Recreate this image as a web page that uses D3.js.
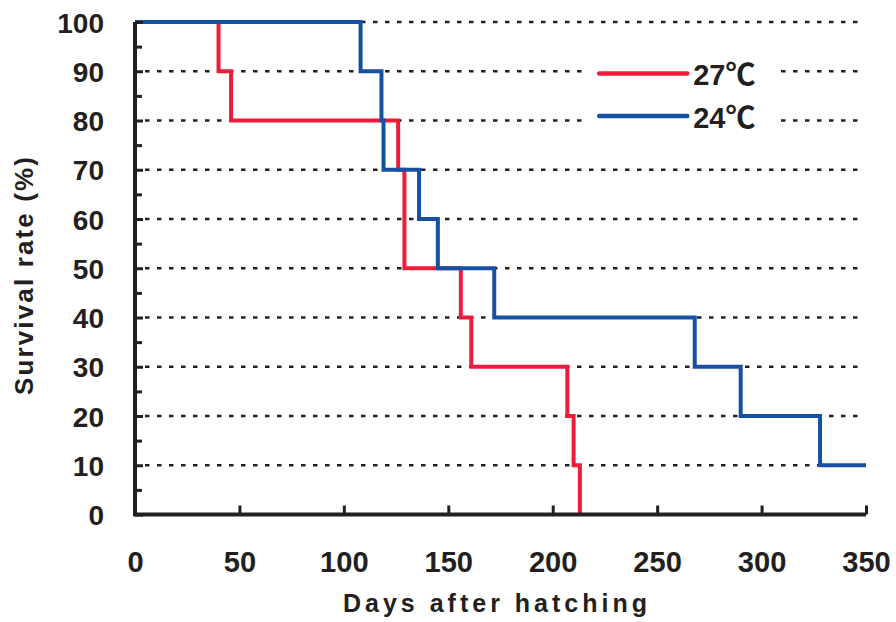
<!DOCTYPE html>
<html>
<head>
<meta charset="utf-8">
<script src="https://cdn.jsdelivr.net/npm/d3@7"></script>
<style>
  body { margin: 0; background: #fff; }
  text { font-family: "Liberation Sans", Arial, "Noto Sans CJK JP", sans-serif; font-weight: bold; fill: #231f20; }
</style>
</head>
<body>
<svg id="chart" width="896" height="622"></svg>
<script>
// survival data
const days27 = [0, 40, 46, 126, 129, 156, 161, 207, 210, 213];
const rate27 = [100, 90, 80, 70, 50, 40, 30, 20, 10, 0];
const days24 = [0, 108, 118, 119, 136, 145, 172, 268, 290, 328, 350];
const rate24 = [100, 90, 80, 70, 60, 50, 40, 30, 20, 10, 10];
const xTicks = [0, 50, 100, 150, 200, 250, 300, 350];
const yTicks = [0, 10, 20, 30, 40, 50, 60, 70, 80, 90, 100];
const yMinor = [5, 15, 25, 35, 45, 55, 65, 75, 85, 95];

const series = [
  {name: "27", unit: "℃", color: "#ee1c3b", days: days27, rate: rate27},
  {name: "24", unit: "℃", color: "#1550a4", days: days24, rate: rate24}
];

const svg = d3.select("#chart");
const margin = {top: 22, right: 30, bottom: 107.5, left: 135};
const W = 896 - margin.left - margin.right;
const H = 622 - margin.top - margin.bottom;
const ink = "#231f20";

const g = svg.append("g").attr("transform", `translate(${margin.left},${margin.top})`);

const x = d3.scaleLinear().domain([0, 350]).range([0, W]);
const y = d3.scaleLinear().domain([0, 100]).range([H, 0]);

// dotted grid
g.append("g")
  .selectAll("line")
  .data(yTicks.filter(d => d > 0))
  .join("line")
  .attr("x1", 10).attr("x2", x(347))
  .attr("y1", d => y(d)).attr("y2", d => y(d))
  .attr("stroke", ink)
  .attr("stroke-width", 2.6)
  .attr("stroke-dasharray", "4.5,7.5");

// legend box hides the grid
const lg = g.append("g").attr("transform", `translate(${x(217)},0)`);
lg.append("rect").attr("x", 0).attr("y", 33).attr("width", 190).attr("height", 80).attr("fill", "#fff");

// lines
const line = d3.line()
  .x(d => x(d[0]))
  .y(d => y(d[1]))
  .curve(d3.curveStepAfter);

g.selectAll("path.surv")
  .data(series)
  .join("path")
  .attr("class", "surv")
  .attr("d", s => line(s.days.map((d, i) => [d, s.rate[i]])))
  .attr("fill", "none")
  .attr("stroke", s => s.color)
  .attr("stroke-width", 4)
  .attr("stroke-linejoin", "miter")
  .attr("stroke-linecap", "butt");

// legend entries
series.forEach((s, i) => {
  const ly = 51.5 + i * 42.5;
  lg.append("line")
    .attr("x1", 11).attr("x2", 99)
    .attr("y1", ly).attr("y2", ly)
    .attr("stroke", s.color).attr("stroke-width", 4.5).attr("stroke-linecap", "round");
  const t = lg.append("text")
    .attr("x", 105).attr("y", ly + 11.5)
    .attr("font-size", 29);
  t.append("tspan").text(s.name);
  t.append("tspan")
    .style("font-family", "'Noto Sans CJK JP', sans-serif")
    .attr("font-size", 30)
    .text(s.unit);
});

// y axis
const yAxis = g.append("g")
  .call(d3.axisLeft(y).tickValues(yTicks).tickSize(-8).tickPadding(31));
yAxis.select(".domain").remove();
yAxis.selectAll(".tick line").attr("stroke", ink).attr("stroke-width", 3);
yAxis.selectAll(".tick text").attr("font-size", 28).attr("fill", ink).attr("dy", "0.36em");

const yMinorAxis = g.append("g")
  .call(d3.axisLeft(y).tickValues(yMinor).tickSize(-7).tickFormat(""));
yMinorAxis.select(".domain").remove();
yMinorAxis.selectAll(".tick line").attr("stroke", ink).attr("stroke-width", 3);

// x axis
const xAxis = g.append("g")
  .attr("transform", `translate(0,${H})`)
  .call(d3.axisBottom(x).tickValues(xTicks).tickSize(-9).tickPadding(0));
xAxis.select(".domain").remove();
xAxis.selectAll(".tick line").attr("stroke", ink).attr("stroke-width", 3);
xAxis.selectAll(".tick text")
  .attr("font-size", 30).attr("fill", ink)
  .attr("y", 57.5).attr("dy", 0)
  .attr("transform", "scale(0.97,1)");

// axis lines
g.append("path")
  .attr("d", `M0,0 V${H} H${W}`)
  .attr("fill", "none")
  .attr("stroke", ink)
  .attr("stroke-width", 4)
  .attr("stroke-linejoin", "miter");

// titles
svg.append("text")
  .attr("x", 495).attr("y", 612)
  .attr("text-anchor", "middle")
  .attr("font-size", 25)
  .attr("textLength", 304).attr("lengthAdjust", "spacing")
  .text("Days after hatching");

svg.append("text")
  .attr("transform", "translate(33,276) rotate(-90)")
  .attr("text-anchor", "middle")
  .attr("font-size", 26)
  .attr("textLength", 238).attr("lengthAdjust", "spacing")
  .text("Survival rate (%)");
</script>
</body>
</html>
